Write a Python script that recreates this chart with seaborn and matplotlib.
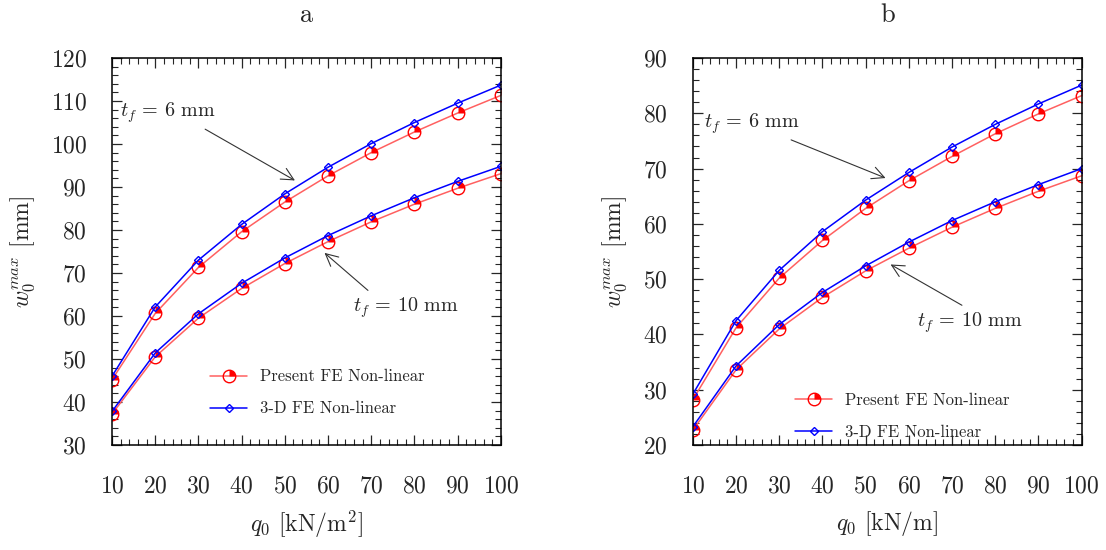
import pandas as pd
import seaborn as sns
import matplotlib.pyplot as plt
from matplotlib.path import Path
from matplotlib.lines import Line2D
from matplotlib.legend_handler import HandlerTuple
from matplotlib.ticker import MultipleLocator

# load q0 values (same for both panels)
q0 = [10, 20, 30, 40, 50, 60, 70, 80, 90, 100]

# panel a : w0max [mm] vs q0 [kN/m^2]
a_present_6 = [45.2, 60.6, 71.3, 79.6, 86.5, 92.6, 98.0, 102.8, 107.2, 111.3]
a_3d_6 = [46.0, 62.1, 73.0, 81.3, 88.4, 94.6, 100.1, 105.0, 109.5, 113.7]
a_present_10 = [37.2, 50.5, 59.5, 66.4, 72.2, 77.3, 81.9, 86.0, 89.7, 93.1]
a_3d_10 = [37.8, 51.4, 60.5, 67.6, 73.5, 78.7, 83.3, 87.5, 91.3, 94.8]

# panel b : w0max [mm] vs q0 [kN/m]
b_present_6 = [28.2, 41.2, 50.2, 57.0, 62.8, 67.8, 72.2, 76.3, 79.9, 83.2]
b_3d_6 = [29.2, 42.5, 51.6, 58.6, 64.3, 69.3, 73.9, 78.0, 81.7, 85.1]
b_present_10 = [22.7, 33.6, 41.0, 46.7, 51.5, 55.6, 59.4, 62.8, 65.9, 68.7]
b_3d_10 = [23.3, 34.3, 41.8, 47.6, 52.4, 56.7, 60.6, 64.0, 67.1, 70.0]

sns.set_style("ticks")
plt.rcParams["font.family"] = ["cmr10", "DejaVu Serif"]
plt.rcParams["mathtext.fontset"] = "cm"
plt.rcParams["axes.formatter.use_mathtext"] = True

RED_LINE = "#ff6060"
RED = "#ff0000"
BLUE = "#0000ff"
wedge = Path.wedge(0, 90)

fig, axes = plt.subplots(1, 2, figsize=(11.06, 5.5), dpi=100)
plt.subplots_adjust(left=0.1013, right=0.978, top=0.8945, bottom=0.191, wspace=0.494)


def draw_series(ax, present, fe3d):
    df = pd.DataFrame({"q0": q0, "present": present, "fe3d": fe3d})
    # red line with open circles, then filled quarter on top
    sns.lineplot(data=df, x="q0", y="present", ax=ax, color=RED_LINE, lw=1.1,
                 marker="o", ms=9, mfc="none", mec=RED, mew=1.0)
    sns.lineplot(data=df, x="q0", y="present", ax=ax, color=RED, lw=0,
                 marker=wedge, ms=9, mfc=RED, mec=RED, mew=0)
    sns.lineplot(data=df, x="q0", y="fe3d", ax=ax, color=BLUE, lw=1.1,
                 marker="D", ms=4.5, mfc="none", mec=BLUE, mew=1.0)


panels = [
    (axes[0], a_present_6, a_3d_6, a_present_10, a_3d_10, (30, 120), "a",
     r"$q_0$ [kN/m$^2$]", (0.214, 0.035)),
    (axes[1], b_present_6, b_3d_6, b_present_10, b_3d_10, (20, 90), "b",
     r"$q_0$ [kN/m]", (0.225, -0.026)),
]

for ax, p6, d6, p10, d10, ylim, title, xlab, loc in panels:
    draw_series(ax, p6, d6)
    draw_series(ax, p10, d10)
    ax.set_xlim(10, 100)
    ax.set_ylim(*ylim)
    ax.xaxis.set_major_locator(MultipleLocator(10))
    ax.xaxis.set_minor_locator(MultipleLocator(2))
    ax.yaxis.set_major_locator(MultipleLocator(10))
    ax.yaxis.set_minor_locator(MultipleLocator(2))
    ax.tick_params(which="both", direction="in", top=True, right=True, labelsize=17)
    ax.tick_params(which="major", length=7, width=0.9)
    ax.tick_params(axis="x", which="major", pad=22)
    ax.tick_params(axis="y", which="major", pad=18)
    ax.tick_params(which="minor", length=4, width=0.8)
    for s in ax.spines.values():
        s.set_linewidth(1.1)
        s.set_color("black")
    ax.set_title(title, fontsize=19, pad=26)
    ax.set_xlabel(xlab, fontsize=17, labelpad=8)
    ax.set_ylabel(r"$w_0^{max}$ [mm]", fontsize=17, labelpad=10)

    # legend with composite red marker
    h_red = (Line2D([], [], color=RED_LINE, lw=1.1, marker="o", ms=9, mfc="none", mec=RED),
             Line2D([], [], lw=0, marker=wedge, ms=9, mfc=RED, mec=RED, mew=0))
    h_blue = Line2D([], [], color=BLUE, lw=1.1, marker="D", ms=4.5, mfc="none", mec=BLUE)
    ax.legend([h_red, h_blue], ["Present FE Non-linear", "3-D FE Non-linear"],
              handler_map={tuple: HandlerTuple(ndivide=1)}, frameon=False,
              fontsize=12, loc="lower left", bbox_to_anchor=loc, handlelength=2.2,
              labelspacing=1.0)

arrow = dict(arrowstyle="->", color="#333333", lw=0.8, mutation_scale=22)
axes[0].annotate(r"$t_f\,=\,6$ mm", xy=(52.9, 91.2), xytext=(11.9, 107.4),
                 fontsize=14.5, va="center", ha="left", arrowprops=dict(arrow, relpos=(0.8, 0)))
axes[0].annotate(r"$t_f\,=\,10$ mm", xy=(58.7, 75.1), xytext=(65.7, 61.9),
                 fontsize=14.5, va="center", ha="left", arrowprops=dict(arrow, relpos=(0.2, 1)))
axes[1].annotate(r"$t_f\,=\,6$ mm", xy=(55.2, 68.1), xytext=(12.5, 78.2),
                 fontsize=14.5, va="center", ha="left", arrowprops=dict(arrow, relpos=(0.8, 0)))
axes[1].annotate(r"$t_f\,=\,10$ mm", xy=(55.2, 52.9), xytext=(61.9, 42.2),
                 fontsize=14.5, va="center", ha="left", arrowprops=dict(arrow, relpos=(0.5, 1)))

plt.savefig("out.png", dpi=100)
